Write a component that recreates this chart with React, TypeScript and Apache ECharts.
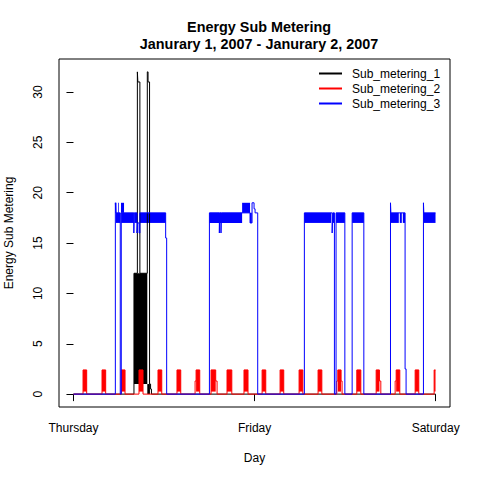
import { useEffect, useRef } from 'react'
import * as echarts from 'echarts'

// x values are minutes since Thursday 00:00 (2880 = Saturday 00:00)
const dayTicks = [0, 1440, 2880]
const dayLabels = ['Thursday', 'Friday', 'Saturday']
const yTicks = [0, 5, 10, 15, 20, 25, 30]
const lastMinute = 2879

const seriesNames = ['Sub_metering_1', 'Sub_metering_2', 'Sub_metering_3']
const seriesColors = ['#000000', '#ff0000', '#0000ff']

// step points [minute, value]: value holds until the next point
const sub1Steps = [
  [0, 0], [481, 12], [508, 32], [512, 31], [528, 12], [587, 32], [593, 31],
  [605, 1], [613, 0.5], [620, 0], [lastMinute, 0],
]
// dense oscillation drawn as bands [start, end, low, high]
const sub1Bands = [
  [481, 587, 1, 12],
  [587, 608, 0, 1],
]

const sub2Steps = [
  [0, 0],
  [76, 2.4], [105, 0],
  [227, 2.4], [256, 0],
  [380, 2.4], [410, 0],
  [521, 2.4], [553, 0],
  [672, 2.4], [702, 0],
  [823, 2.4], [853, 0],
  [967, 1.3], [975, 2.4], [1004, 0],
  [1094, 2.4], [1131, 1.3], [1142, 0],
  [1221, 2.4], [1259, 0],
  [1356, 2.4], [1388, 0],
  [1500, 2.4], [1529, 0],
  [1643, 2.4], [1672, 0],
  [1794, 2.4], [1824, 0],
  [1945, 2.4], [1975, 0],
  [2094, 1.3], [2102, 2.4], [2128, 1.3], [2136, 0],
  [2253, 2.4], [2285, 0],
  [2407, 2.4], [2433, 1.3], [2444, 0],
  [2558, 1.3], [2566, 2.4], [2595, 0],
  [2717, 2.4], [2746, 0],
  [2868, 2.4], [lastMinute, 2.4],
]
const sub2Bands = [
  [76, 105, 0.25, 2.4],
  [227, 256, 0.25, 2.4],
  [380, 410, 0.25, 2.4],
  [521, 553, 0.25, 2.4],
  [672, 702, 0.25, 2.4],
  [823, 853, 0.25, 2.4],
  [975, 1004, 0.25, 2.4],
  [1094, 1131, 0.25, 2.4],
  [1221, 1259, 0.25, 2.4],
  [1356, 1388, 0.25, 2.4],
  [1500, 1529, 0.25, 2.4],
  [1643, 1672, 0.25, 2.4],
  [1794, 1824, 0.25, 2.4],
  [1945, 1975, 0.25, 2.4],
  [2102, 2128, 0.25, 2.4],
  [2253, 2285, 0.25, 2.4],
  [2407, 2433, 0.25, 2.4],
  [2566, 2595, 0.25, 2.4],
  [2717, 2746, 0.25, 2.4],
  [2868, lastMinute, 0.25, 2.4],
]

const sub3Steps = [
  [0, 0], [333, 19], [337, 18], [372, 0], [380, 18], [480, 16], [483, 18],
  [505, 16], [510, 17], [522, 16], [528, 18], [733, 15.5], [741, 0],
  [1081, 18], [1160, 16], [1163, 18], [1173, 16], [1176, 18], [1404, 17],
  [1420, 19], [1436, 18.4], [1444, 18], [1465, 0],
  [1836, 18], [2057, 16], [2062, 18], [2075, 0], [2088, 18], [2158, 0],
  [2216, 18], [2309, 0],
  [2521, 19], [2524, 18], [2637, 2.5], [2645, 0],
  [2783, 19], [2786, 18], [lastMinute, 18],
]
const sub3Bands = [
  [333, 342, 18, 19],
  [354, 360, 18, 19],
  [378, 402, 18, 19],
  [337, 372, 17, 18],
  [380, 480, 17, 18],
  [484, 505, 17, 18],
  [528, 733, 17, 18],
  [1081, 1341, 17, 18],
  [1341, 1404, 18, 19],
  [1404, 1418, 17, 18],
  [1836, 2049, 17, 18],
  [2062, 2075, 17, 18],
  [2088, 2158, 17, 18],
  [2216, 2309, 17, 18],
  [2521, 2587, 17, 18],
  [2595, 2611, 17, 18],
  [2619, 2637, 17, 18],
  [2783, lastMinute, 17, 18],
]

const FONT = '"Liberation Sans", Arial, sans-serif'

function bandSeries(name: string, color: string, data: number[][]) {
  return {
    name,
    type: 'custom',
    encode: { x: [0, 1], y: [2, 3] },
    data,
    renderItem: (_params: unknown, api: any) => {
      const a = api.coord([api.value(0), api.value(3)])
      const b = api.coord([api.value(1), api.value(2)])
      return {
        type: 'rect',
        shape: { x: a[0], y: a[1], width: b[0] - a[0], height: b[1] - a[1] },
        style: { fill: color },
      }
    },
  }
}

function stepSeries(name: string, color: string, data: number[][]) {
  return {
    name,
    type: 'line',
    step: 'end',
    data,
    showSymbol: false,
    symbol: 'none',
    lineStyle: { width: 1, color },
    itemStyle: { color },
  }
}

export default function App() {
  const hostRef = useRef<HTMLDivElement | null>(null)

  useEffect(() => {
    const host = hostRef.current
    if (!host) return
    const chart = echarts.init(host, undefined, { renderer: 'svg' })

    const xPad = lastMinute * 0.04
    const yMax = 32
    const yPad = yMax * 0.04

    chart.setOption({
      animation: false,
      backgroundColor: '#ffffff',
      textStyle: { fontFamily: FONT },
      title: {
        text: 'Energy Sub Metering\nJanurary 1, 2007 - Janurary 2, 2007',
        left: 254,
        top: 13,
        textAlign: 'center',
        textStyle: { fontFamily: FONT, fontSize: 14.4, fontWeight: 'bold', color: '#000', lineHeight: 17 },
      },
      legend: {
        data: seriesNames,
        orient: 'vertical',
        left: 319,
        top: 66,
        padding: 0,
        itemGap: 0,
        itemWidth: 23,
        itemHeight: 2,
        icon: 'rect',
        selectedMode: false,
        textStyle: { fontFamily: FONT, fontSize: 12, color: '#000', lineHeight: 15, padding: [0, 0, 0, 5] },
      },
      grid: {
        left: 59,
        right: 30,
        top: 59,
        bottom: 73,
        outerBoundsMode: 'none',
        containLabel: false,
        show: true,
        borderColor: '#000',
        borderWidth: 1,
        backgroundColor: 'transparent',
      },
      xAxis: {
        type: 'value',
        min: -xPad,
        max: lastMinute + xPad,
        name: 'Day',
        nameLocation: 'middle',
        nameGap: 45,
        nameTextStyle: { fontFamily: FONT, fontSize: 12, color: '#000' },
        axisLine: { show: false },
        splitLine: { show: false },
        axisTick: { show: true, inside: false, length: 7, customValues: dayTicks, lineStyle: { color: '#000' } },
        axisLabel: {
          customValues: dayTicks,
          margin: 15,
          fontFamily: FONT,
          fontSize: 12,
          color: '#000',
          formatter: (v: number) => dayLabels[dayTicks.indexOf(v)] ?? '',
        },
      },
      yAxis: {
        type: 'value',
        min: -yPad,
        max: yMax + yPad,
        name: 'Energy Sub Metering',
        nameLocation: 'middle',
        nameGap: 44,
        nameRotate: 90,
        nameTextStyle: { fontFamily: FONT, fontSize: 12, color: '#000' },
        axisLine: { show: false },
        splitLine: { show: false },
        axisTick: { show: true, inside: false, length: 7, customValues: yTicks, lineStyle: { color: '#000' } },
        axisLabel: {
          customValues: yTicks,
          rotate: 90,
          margin: 15,
          fontFamily: FONT,
          fontSize: 12,
          color: '#000',
        },
      },
      series: [
        stepSeries(seriesNames[0], seriesColors[0], sub1Steps),
        bandSeries('band_1', seriesColors[0], sub1Bands),
        stepSeries(seriesNames[1], seriesColors[1], sub2Steps),
        bandSeries('band_2', seriesColors[1], sub2Bands),
        stepSeries(seriesNames[2], seriesColors[2], sub3Steps),
        bandSeries('band_3', seriesColors[2], sub3Bands),
      ],
    })

    return () => {
      chart.dispose()
    }
  }, [])

  return (
    <div
      ref={hostRef}
      style={{ position: 'fixed', left: 0, top: 0, width: 480, height: 480, background: '#fff' }}
    />
  )
}
